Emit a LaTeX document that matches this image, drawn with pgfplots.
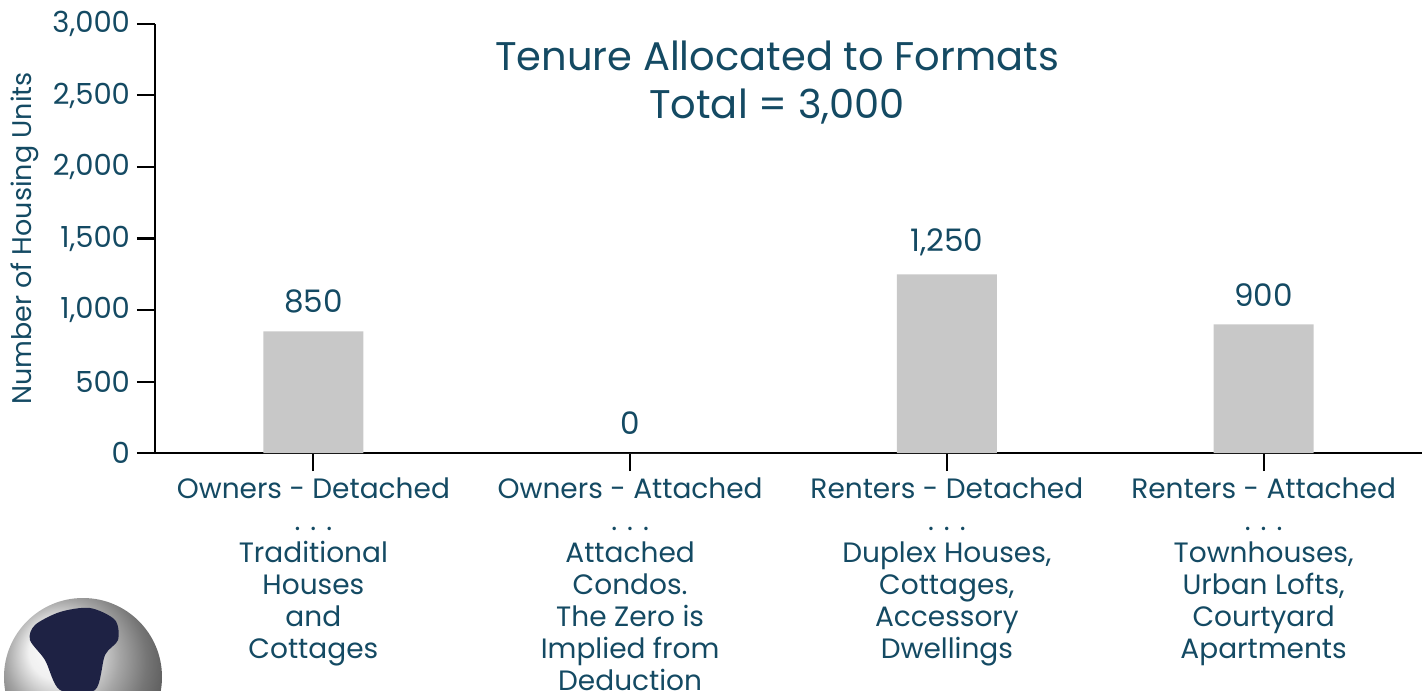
\documentclass[border=0pt]{standalone}
\usepackage{fontspec}
\setmainfont{Poppins}
\usepackage{pgfplots}
\pgfplotsset{compat=1.18}
\usetikzlibrary{calc}
\definecolor{txt}{RGB}{20,74,99}
\definecolor{bargray}{RGB}{200,200,200}
\definecolor{land}{RGB}{30,34,68}
\begin{document}
\begin{tikzpicture}
\begin{axis}[
    scale only axis,
    width=633.5pt, height=214.5pt,
    xmin=-0.5, xmax=3.5,
    ymin=0, ymax=3000,
    axis x line*=bottom,
    axis y line*=left,
    axis line style={black, line width=1pt, -},
    tick style={black, line width=1pt},
    tick align=outside,
    major tick length=9pt,
    xtick={0,1,2,3},
    ytick={0,500,...,3000},
    xticklabels={
        {Owners - Detached\\. . .\\Traditional\\Houses\\and\\Cottages},
        {Owners - Attached\\. . .\\Attached\\Condos.\\The Zero is\\Implied from\\Deduction},
        {Renters - Detached\\. . .\\Duplex Houses,\\Cottages,\\Accessory\\Dwellings},
        {Renters - Attached\\. . .\\Townhouses,\\Urban Lofts,\\Courtyard\\Apartments}
    },
    x tick label style={align=center, font=\fontsize{14}{16}\selectfont, text=txt},
    y tick label style={font=\fontsize{14.5}{17}\selectfont, text=txt},
    /pgf/number format/assume math mode=true,
    /pgf/number format/1000 sep={,},
    ylabel={Number of Housing Units},
    ylabel style={at={(rel axis cs:0,0.5)}, anchor=center, yshift=65pt,
        font=\fontsize{13.5}{16}\selectfont, text=txt},
    nodes near coords,
    nodes near coords style={font=\fontsize{15.5}{18}\selectfont, text=txt, yshift=5.5pt},
    clip=false,
]
    \addplot[ybar, bar width=50pt, fill=bargray, draw=none]
        coordinates {(0,850) (1,0) (2,1250) (3,900)};
    \node[align=center, font=\fontsize{20}{24}\selectfont, text=txt]
        at (rel axis cs:0.491,0.864) {Tenure Allocated to Formats\\Total = 3,000};
\end{axis}
% globe decoration, bottom left
\begin{scope}[shift={($(current axis.south west)+(-36pt,-112pt)$)}]
    \shade[ball color=gray!15] (0,0) circle (39.5pt);
    \begin{scope}
        \clip (0,0) circle (39.5pt);
        \fill[land] plot[smooth cycle] coordinates {
            (-24pt,26pt) (-11.5pt,32.5pt) (3.5pt,34.5pt) (16pt,28.5pt)
            (17.5pt,18.5pt) (11pt,11pt) (6pt,-6.5pt) (-11.5pt,-6.5pt)
            (-19pt,8.5pt) (-26.5pt,18.5pt)};
    \end{scope}
\end{scope}
\pgfresetboundingbox
\path ($(current axis.south west)+(-77.5pt,-118.5pt)$) rectangle ($(current axis.north east)+(0,12pt)$);
\end{tikzpicture}
\end{document}
